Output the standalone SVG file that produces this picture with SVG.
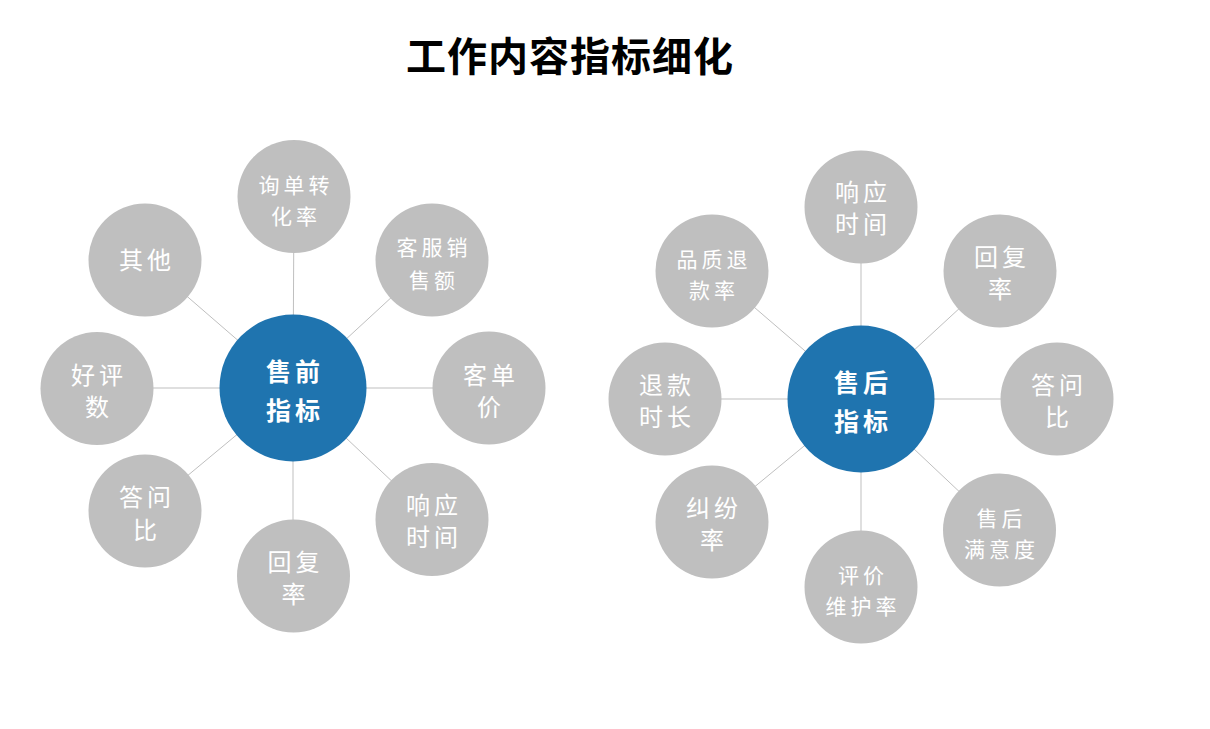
<svg xmlns="http://www.w3.org/2000/svg" width="1210" height="729" viewBox="0 0 1210 729">
<style>
.bg{fill:#FFFFFF}
.title{font-family:"Noto Sans CJK SC","Liberation Sans",sans-serif;font-weight:700;font-size:40px;fill:#000000;letter-spacing:1px}
.hub{fill:#1F74AF}
.sat{fill:#BFBFBF}
.hubt{font-family:"Noto Sans CJK SC","Liberation Sans",sans-serif;font-weight:700;font-size:25px;fill:#FFFFFF;letter-spacing:4px}
.big{font-family:"Noto Sans CJK SC","Liberation Sans",sans-serif;font-size:24px;fill:#FFFFFF;letter-spacing:4px}
.sm{font-family:"Noto Sans CJK SC","Liberation Sans",sans-serif;font-size:21px;fill:#FFFFFF;letter-spacing:4px}
.conn line{stroke:#BFBFBF;stroke-width:1}
text{text-anchor:middle}
</style>
<rect class="bg" x="0" y="0" width="1210" height="729"/>
<text class="title" x="570" y="71">工作内容指标细化</text>

<g id="connectors" class="conn">
  <line x1="293" y1="388" x2="294" y2="196"/>
  <line x1="293" y1="388" x2="432" y2="260"/>
  <line x1="293" y1="388" x2="489" y2="388"/>
  <line x1="293" y1="388" x2="432" y2="519"/>
  <line x1="293" y1="388" x2="293" y2="576"/>
  <line x1="293" y1="388" x2="145" y2="511"/>
  <line x1="293" y1="388" x2="97" y2="388"/>
  <line x1="293" y1="388" x2="145" y2="260"/>
  <line x1="861" y1="399" x2="861" y2="207"/>
  <line x1="861" y1="399" x2="1000" y2="271"/>
  <line x1="861" y1="399" x2="1057" y2="399"/>
  <line x1="861" y1="399" x2="1000" y2="530"/>
  <line x1="861" y1="399" x2="861" y2="587"/>
  <line x1="861" y1="399" x2="712" y2="522"/>
  <line x1="861" y1="399" x2="665" y2="399"/>
  <line x1="861" y1="399" x2="712" y2="271"/>
</g>

<g id="pre-hub"><circle class="hub" cx="293" cy="388" r="73.5"/><text class="hubt" x="295" y="381">售前</text><text class="hubt" x="295" y="420">指标</text></g>
<g id="pre-n"><circle class="sat" cx="294" cy="196.5" r="56.5"/><text class="sm" x="296" y="193">询单转</text><text class="sm" x="296" y="224">化率</text></g>
<g id="pre-ne"><circle class="sat" cx="432" cy="260" r="56.5"/><text class="sm" x="434" y="255">客服销</text><text class="sm" x="434" y="288">售额</text></g>
<g id="pre-e"><circle class="sat" cx="489" cy="388" r="56.5"/><text class="big" x="491" y="384">客单</text><text class="big" x="491" y="416">价</text></g>
<g id="pre-se"><circle class="sat" cx="432" cy="519.5" r="56.5"/><text class="big" x="434" y="514">响应</text><text class="big" x="434" y="546">时间</text></g>
<g id="pre-s"><circle class="sat" cx="293.5" cy="576" r="56.5"/><text class="big" x="295.5" y="571">回复</text><text class="big" x="295.5" y="603">率</text></g>
<g id="pre-sw"><circle class="sat" cx="145" cy="511" r="56.5"/><text class="big" x="147" y="506">答问</text><text class="big" x="147" y="539">比</text></g>
<g id="pre-w"><circle class="sat" cx="97" cy="388.5" r="56.5"/><text class="big" x="99" y="384">好评</text><text class="big" x="99" y="416">数</text></g>
<g id="pre-nw"><circle class="sat" cx="145" cy="260" r="56.5"/><text class="big" x="147" y="269">其他</text></g>

<g id="post-hub"><circle class="hub" cx="861" cy="399" r="73.5"/><text class="hubt" x="863" y="392">售后</text><text class="hubt" x="863" y="431">指标</text></g>
<g id="post-n"><circle class="sat" cx="861" cy="207" r="56.5"/><text class="big" x="863" y="201">响应</text><text class="big" x="863" y="233">时间</text></g>
<g id="post-ne"><circle class="sat" cx="1000" cy="271" r="56.5"/><text class="big" x="1002" y="266">回复</text><text class="big" x="1002" y="298">率</text></g>
<g id="post-e"><circle class="sat" cx="1057" cy="399" r="56.5"/><text class="big" x="1059" y="394">答问</text><text class="big" x="1059" y="426">比</text></g>
<g id="post-se"><circle class="sat" cx="999.5" cy="530" r="56.5"/><text class="sm" x="1001.5" y="526">售后</text><text class="sm" x="1001.5" y="557">满意度</text></g>
<g id="post-s"><circle class="sat" cx="861" cy="587" r="56.5"/><text class="sm" x="863" y="583">评价</text><text class="sm" x="863" y="614">维护率</text></g>
<g id="post-sw"><circle class="sat" cx="712" cy="522" r="56.5"/><text class="big" x="714" y="517">纠纷</text><text class="big" x="714" y="549">率</text></g>
<g id="post-w"><circle class="sat" cx="665" cy="399" r="56.5"/><text class="big" x="667" y="394">退款</text><text class="big" x="667" y="426">时长</text></g>
<g id="post-nw"><circle class="sat" cx="712" cy="271" r="56.5"/><text class="sm" x="714" y="267">品质退</text><text class="sm" x="714" y="298">款率</text></g>
</svg>
